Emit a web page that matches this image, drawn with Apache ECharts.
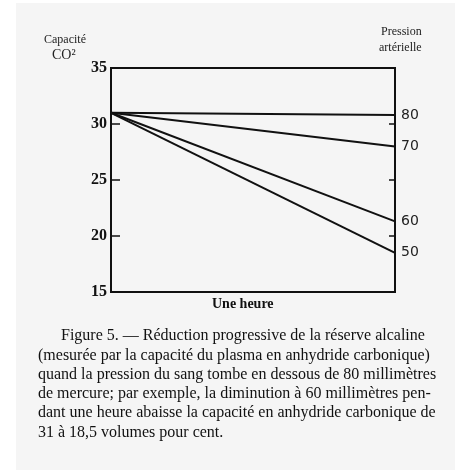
<!DOCTYPE html>
<html>
<head>
<meta charset="utf-8">
<script src="https://cdn.jsdelivr.net/npm/echarts@6/dist/echarts.min.js"></script>
<style>
  html, body { margin: 0; padding: 0; background: #ffffff; }
  #main { width: 455px; height: 470px; }
</style>
</head>
<body>
<div id="main"></div>
<script>
// pressions arterielles (mm Hg) et capacite CO2 au debut / apres une heure
var pressures = ['80', '70', '60', '50'];
var startValues = [31, 31, 31, 31];
var endValues = [30.8, 28, 21.3, 18.5];
var hourSteps = [0, 1];
var yTicks = [15, 20, 25, 30, 35];

var captionLines = [
  'Figure 5. \u2014 R\u00e9duction progressive de la r\u00e9serve alcaline',
  '(mesur\u00e9e par la capacit\u00e9 du plasma en anhydride carbonique)',
  'quand la pression du sang tombe en dessous de 80 millim\u00e8tres',
  'de mercure; par exemple, la diminution \u00e0 60 millim\u00e8tres pen-',
  'dant une heure abaisse la capacit\u00e9 en anhydride carbonique de',
  '31 \u00e0 18,5 volumes pour cent.'
];

var chart = echarts.init(document.getElementById('main'), null, { renderer: 'canvas' });

var series = pressures.map(function (p, i) {
  return {
    name: p,
    type: 'line',
    data: [[hourSteps[0], startValues[i]], [hourSteps[1], endValues[i]]],
    symbol: 'none',
    lineStyle: { color: '#111', width: 2 },
    endLabel: {
      show: true,
      formatter: p,
      distance: 6,
      fontFamily: 'DejaVu Sans',
      fontSize: 14,
      color: '#222'
    },
    silent: true,
    animation: false
  };
});

var captionGraphics = captionLines.map(function (line, i) {
  return {
    type: 'text',
    left: i === 0 ? 61 : 38,
    top: 328 + i * 19.3,
    style: {
      text: line,
      fontFamily: 'Liberation Serif',
      fontSize: 16,
      fill: '#111'
    }
  };
});

var option = {
  backgroundColor: '#f5f5f5',
  animation: false,
  grid: {
    left: 111, right: 60, top: 68, bottom: 178,
    show: true, borderColor: '#111', borderWidth: 2,
    backgroundColor: 'transparent'
  },
  xAxis: {
    type: 'value',
    min: 0, max: 1,
    axisLine: { show: false },
    axisTick: { show: false },
    axisLabel: { show: false },
    splitLine: { show: false }
  },
  yAxis: [{
    type: 'value',
    min: 15, max: 35, interval: 5,
    position: 'left',
    axisLine: { show: true, lineStyle: { color: '#111', width: 2 } },
    axisTick: { show: true, inside: true, length: 9, lineStyle: { color: '#111', width: 1.5 } },
    axisLabel: {
      margin: 4,
      fontFamily: 'Liberation Serif',
      fontWeight: 'bold',
      fontSize: 16,
      color: '#111',
      formatter: function (v) { return yTicks.indexOf(v) >= 0 ? String(v) : ''; }
    },
    splitLine: { show: false }
  }, {
    type: 'value',
    min: 15, max: 35, interval: 5,
    position: 'right',
    axisLine: { show: true, lineStyle: { color: '#111', width: 2 } },
    axisTick: { show: true, inside: true, length: 6, lineStyle: { color: '#111', width: 1.5 } },
    axisLabel: { show: false },
    splitLine: { show: false }
  }],
  series: series,
  graphic: [
    { type: 'rect', left: 0, top: 0, shape: { width: 16, height: 470 }, style: { fill: '#ffffff' } },
    { type: 'rect', left: 0, top: 0, shape: { width: 455, height: 3 }, style: { fill: '#ffffff' } },
    { type: 'text', left: 44, top: 34, style: { text: 'Capacit\u00e9', fontFamily: 'Liberation Serif', fontSize: 12, fill: '#222' } },
    { type: 'text', left: 52, top: 48, style: { text: 'CO\u00b2', fontFamily: 'Liberation Serif', fontSize: 14, fill: '#222' } },
    { type: 'text', left: 381, top: 26, style: { text: 'Pression', fontFamily: 'Liberation Serif', fontSize: 12, fill: '#222' } },
    { type: 'text', left: 379, top: 42, style: { text: 'art\u00e9rielle', fontFamily: 'Liberation Serif', fontSize: 12, fill: '#222' } },
    { type: 'text', left: 212, top: 297, style: { text: 'Une heure', fontFamily: 'Liberation Serif', fontWeight: 'bold', fontSize: 14, fill: '#111' } }
  ].concat(captionGraphics)
};

chart.setOption(option);
</script>
</body>
</html>
